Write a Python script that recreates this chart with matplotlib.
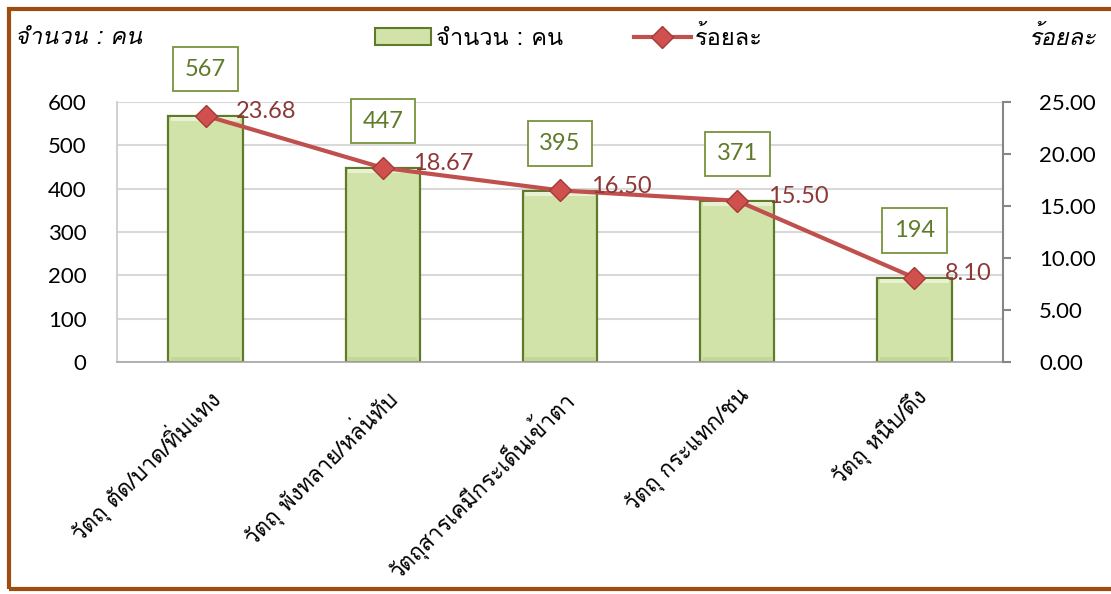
import matplotlib
matplotlib.use("Agg")
import matplotlib.pyplot as plt
import numpy as np
from matplotlib.patches import Rectangle
from matplotlib.ticker import FormatStrFormatter

# data
categories = ["วัตถุ ตัด/บาด/ทิ่มแทง", "วัตถุ พังทลาย/หล่นทับ", "วัตถุสารเคมีกระเด็นเข้าตา",
              "วัตถุ กระแทก/ชน", "วัตถุ หนีบ/ดึง"]
counts = [567, 447, 395, 371, 194]
percents = [23.68, 18.67, 16.50, 15.50, 8.10]

num_font = ["Lato", "Loma"]
thai_font = ["Loma", "Lato"]

green_face = "#d2e3aa"
green_edge = "#5f7a2a"
red = "#c0504d"

fig = plt.figure(figsize=(11.11, 5.94), dpi=100)
ax = fig.add_axes([0.1053, 0.3906, 0.7975, 0.4377])
x = np.arange(len(categories))

# bars with a rough bevel look
ax.bar(x, counts, width=0.42, color=green_face, edgecolor=green_edge, linewidth=1.6, zorder=2)
bevel = 10
ax.bar(x, [bevel] * len(x), bottom=np.array(counts) - bevel - 2, width=0.39,
       color="#e8f1d2", linewidth=0, zorder=3)
ax.bar(x, [bevel] * len(x), bottom=2, width=0.39, color="#c3d797", linewidth=0, zorder=3)

ax.set_xlim(-0.5, len(x) - 0.5)
ax.set_ylim(0, 600)
ax.set_yticks(range(0, 601, 100))
ax.grid(axis="y", color="#d9d9d9", linewidth=1.5, zorder=0)
ax.set_axisbelow(True)
for s in ["top", "right"]:
    ax.spines[s].set_visible(False)
ax.spines["left"].set_color("#c8c8c8")
ax.spines["bottom"].set_color("#a6a6a6")
ax.spines["left"].set_linewidth(1.2)
ax.spines["bottom"].set_linewidth(1.2)
ax.tick_params(axis="y", length=0, pad=22, labelsize=16)
ax.tick_params(axis="x", length=0, pad=16)
for lab in ax.get_yticklabels():
    lab.set_family(num_font)
ax.set_xticks(x)
ax.set_xticklabels(categories, rotation=45, ha="right", rotation_mode="anchor",
                   family=thai_font, fontsize=16)

for xi, c in zip(x, counts):
    ax.annotate(str(c), (xi, c), xytext=(0, 34), textcoords="offset points",
                ha="center", va="center", fontsize=17, color="#5f7a2a", family=num_font,
                bbox=dict(boxstyle="square,pad=0.5", fc="white", ec="#77933c", lw=1.3),
                zorder=6)

ax2 = ax.twinx()
ax2.plot(x, percents, color=red, linewidth=3, marker="D", markersize=11,
         markerfacecolor="#d0504d", markeredgecolor="#a33a37", markeredgewidth=1, zorder=5)
ax2.set_ylim(0, 25)
ax2.set_yticks(np.arange(0, 25.1, 5))
ax2.yaxis.set_major_formatter(FormatStrFormatter("%.2f"))
for s in ["top", "left", "bottom"]:
    ax2.spines[s].set_visible(False)
ax2.spines["right"].set_color("#868686")
ax2.spines["right"].set_linewidth(1.5)
ax2.tick_params(axis="y", direction="out", length=6, width=1.5, color="#868686",
                pad=20, labelsize=16)
for lab in ax2.get_yticklabels():
    lab.set_family(num_font)

for xi, p in zip(x, percents):
    ax2.annotate(f"{p:.2f}", (xi, p), xytext=(22, 3), textcoords="offset points",
                 ha="left", va="center", fontsize=17, color="#8c3836", family=num_font, zorder=7)

# axis titles
fig.text(15 / 1111, 1 - 38 / 594, "จำนวน : คน", ha="left", va="center", fontsize=17,
         style="italic", family=thai_font)
fig.text(1097 / 1111, 1 - 38 / 594, "ร้อยละ", ha="right", va="center", fontsize=17,
         style="italic", family=thai_font)

# legend
bar_h = Rectangle((0, 0), 1, 1, fc=green_face, ec=green_edge, lw=1.5)
line_h, = ax2.plot([], [], color=red, linewidth=3, marker="D", markersize=11,
                   markerfacecolor="#d0504d", markeredgecolor="#a33a37")
fig.legend([bar_h, line_h], ["จำนวน : คน", "ร้อยละ"], loc="center",
           bbox_to_anchor=(0.512, 1 - 38 / 594), ncol=2, frameon=False,
           prop={"family": thai_font, "size": 17}, columnspacing=3.0,
           handlelength=2.4, handletextpad=0.2)

# brown frame around the chart
fig.patches.append(Rectangle((9 / 1111, 5 / 594), 1.2, 1 - 14 / 594, transform=fig.transFigure,
                             fill=False, ec="#9e4d0f", lw=3, zorder=10))

fig.savefig("out.png", dpi=100)
